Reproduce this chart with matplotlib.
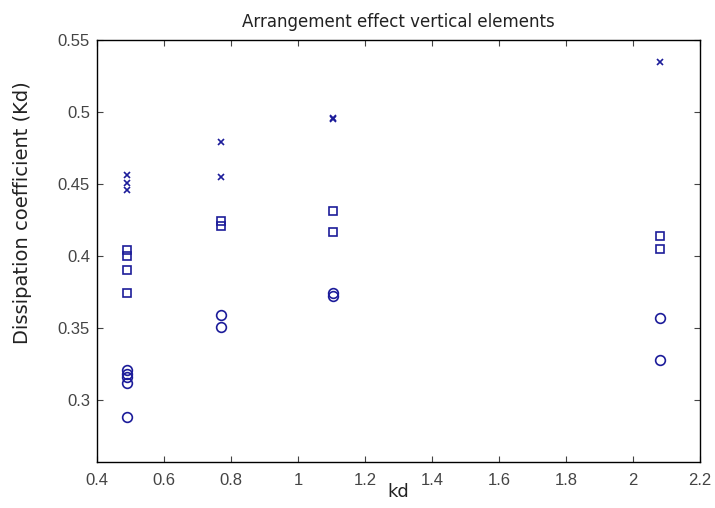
import numpy as np
import matplotlib.pyplot as plt

# kd values of the four tested arrangements
kd_cross = [0.49, 0.49, 0.49, 0.77, 0.77, 1.105, 1.105, 2.08]
kd_cross_val = [0.456, 0.451, 0.446, 0.479, 0.455, 0.496, 0.495, 0.535]

kd_square = [0.49, 0.49, 0.49, 0.49, 0.77, 0.77, 1.105, 1.105, 2.08, 2.08]
kd_square_val = [0.404, 0.400, 0.390, 0.374, 0.424, 0.421, 0.431, 0.417, 0.414, 0.405]

kd_circle = [0.49, 0.49, 0.49, 0.49, 0.49, 0.77, 0.77, 1.105, 1.105, 2.08, 2.08]
kd_circle_val = [0.321, 0.318, 0.316, 0.312, 0.288, 0.359, 0.351, 0.374, 0.372, 0.357, 0.328]

xtick_labels = ['0.4', '0.6', '0.8', '1', '1.2', '1.4', '1.6', '1.8', '2', '2.2']
ytick_labels = ['0.3', '0.35', '0.4', '0.45', '0.5', '0.55']

color = '#1c1c9a'

plt.rcParams['font.family'] = ['Liberation Sans', 'DejaVu Sans']
fig = plt.figure(figsize=(7.15, 5.08), dpi=100)
ax = fig.add_axes([0.1357, 0.0906, 0.8433, 0.8307])

ax.plot(kd_cross, kd_cross_val, 'x', color=color, markersize=5, markeredgewidth=1.2)
ax.plot(kd_square, kd_square_val, 's', color=color, markersize=5.5, markerfacecolor='none', markeredgewidth=1.2)
ax.plot(kd_circle, kd_circle_val, 'o', color=color, markersize=7, markerfacecolor='none', markeredgewidth=1.2)

ax.set_xlim(0.4, 2.2)
ax.set_ylim(0.257, 0.55)
ax.set_xticks(np.arange(0.4, 2.21, 0.2))
ax.set_xticklabels(xtick_labels)
ax.set_yticks([float(t) for t in ytick_labels])
ax.set_yticklabels(ytick_labels)
ax.tick_params(direction='in', top=True, right=True, length=4, labelsize=12, colors='#444444', pad=5)
ax.tick_params(axis='x', pad=8)
for s in ax.spines.values():
    s.set_linewidth(1.0)

ax.set_xlabel('kd', fontsize=13, family='DejaVu Sans', color='#222222')
ax.xaxis.set_label_coords(0.5, -0.05)
ax.set_ylabel('Dissipation coefficient (Kd)', fontsize=14, family='DejaVu Sans', color='#222222')
ax.yaxis.set_label_coords(-0.108, 0.59)
ax.set_title('Arrangement effect vertical elements', fontsize=12, family='DejaVu Sans', color='#222222', pad=9)

fig.savefig('out.png', dpi=100)
